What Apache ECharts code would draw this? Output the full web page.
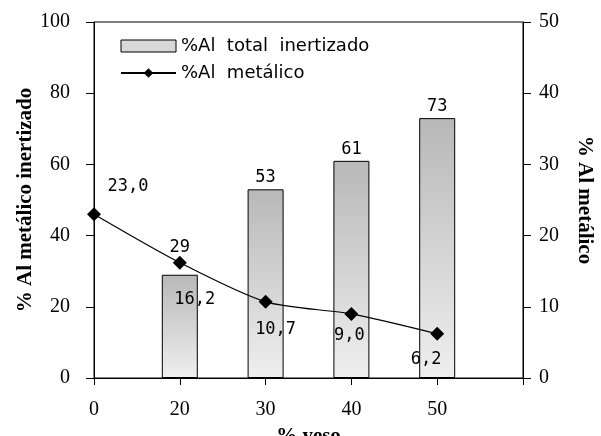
<!DOCTYPE html>
<html><head><meta charset="utf-8">
<script src="https://cdn.jsdelivr.net/npm/echarts@6/dist/echarts.min.js"></script>
<style>html,body{margin:0;padding:0;background:#fff}#c{width:601px;height:436px}</style>
</head><body><div id="c"></div>
<script>
var categories = ['0', '20', '30', '40', '50', ''];
var totalInertizado = [null, 29, 53, 61, 73, null];
var alMetalico = [23.0, 16.2, 10.7, 9.0, 6.2, null];
var leftTicks = {min: 0, max: 100, interval: 20};
var rightTicks = {min: 0, max: 50, interval: 10};

var barLabelOffset = [[0, 0], [0, -16], [0, 0], [0, 0], [0, 0], [0, 0]];
var lineLabelPos = ['top', 'bottom', 'bottom', 'bottom', 'bottom'];
var lineLabelOffset = [[34, -7], [15, 16], [10, 7], [-2, 1], [-11, 5]];

var chart = echarts.init(document.getElementById('c'));
var serif = "'Liberation Serif', 'DejaVu Serif', serif";
var mono = "'DejaVu Sans Mono', 'Liberation Mono', monospace";

var barData = totalInertizado.map(function (v, i) {
  if (v === null) return null;
  return {value: v, label: {offset: barLabelOffset[i]}};
});
var lineData = alMetalico.map(function (v, i) {
  if (v === null) return null;
  return {value: v, label: {position: lineLabelPos[i], offset: lineLabelOffset[i]}};
});

chart.setOption({
  animation: false,
  grid: {left: 94, right: 78, top: 22, bottom: 58, containLabel: false, outerBoundsMode: 'none',
    show: true, borderColor: '#000', borderWidth: 1, backgroundColor: 'transparent'},
  legend: {
    orient: 'vertical', left: 115, top: 32, itemWidth: 55, itemHeight: 12, itemGap: 9,
    textStyle: {fontFamily: "'DejaVu Sans', sans-serif", fontSize: 18, color: '#000'},
    data: [
      {name: '%Al  total  inertizado', icon: 'rect', itemStyle: {color: '#d8d8d8', borderColor: '#000', borderWidth: 1}},
      {name: '%Al  metálico'}
    ]
  },
  xAxis: {
    type: 'category', data: categories, boundaryGap: false,
    name: '% yeso', nameLocation: 'middle', nameGap: 48, nameMoveOverlap: false,
    nameTextStyle: {fontFamily: serif, fontSize: 21, fontWeight: 'bold', color: '#000'},
    axisLine: {lineStyle: {color: '#000', width: 1}},
    axisTick: {show: true, length: 7, lineStyle: {color: '#000'}},
    axisLabel: {fontFamily: serif, fontSize: 20, color: '#000', margin: 22},
    splitLine: {show: false}
  },
  yAxis: [
    {
      type: 'value', min: leftTicks.min, max: leftTicks.max, interval: leftTicks.interval,
      name: '% Al metálico inertizado', nameLocation: 'middle', nameGap: 58, nameRotate: 90, nameMoveOverlap: false,
      nameTextStyle: {fontFamily: serif, fontSize: 21, fontWeight: 'bold', color: '#000'},
      axisLine: {show: true, lineStyle: {color: '#000'}},
      axisTick: {show: true, length: 8, lineStyle: {color: '#000'}},
      axisLabel: {fontFamily: serif, fontSize: 20, color: '#000', margin: 24},
      splitLine: {show: false}
    },
    {
      type: 'value', position: 'right', min: rightTicks.min, max: rightTicks.max, interval: rightTicks.interval,
      name: '% Al metálico', nameLocation: 'middle', nameGap: 51, nameRotate: -90, nameMoveOverlap: false,
      nameTextStyle: {fontFamily: serif, fontSize: 21, fontWeight: 'bold', color: '#000'},
      axisLine: {show: true, lineStyle: {color: '#000'}},
      axisTick: {show: true, length: 8, inside: false, lineStyle: {color: '#000'}},
      axisLabel: {fontFamily: serif, fontSize: 20, color: '#000', margin: 16},
      splitLine: {show: false}
    }
  ],
  series: [
    {
      name: '%Al  total  inertizado', type: 'bar', yAxisIndex: 0, barWidth: 36,
      data: barData,
      itemStyle: {
        color: new echarts.graphic.LinearGradient(0, 0, 0, 1, [
          {offset: 0, color: '#b8b8b8'}, {offset: 1, color: '#efefef'}
        ]),
        borderColor: '#000', borderWidth: 1
      },
      label: {show: true, position: 'top', distance: 3, fontFamily: mono, fontSize: 17, color: '#000'}
    },
    {
      name: '%Al  metálico', type: 'line', yAxisIndex: 1, smooth: 0.25,
      data: lineData, symbol: 'diamond', symbolSize: 14,
      lineStyle: {color: '#000', width: 1.2},
      itemStyle: {color: '#000'},
      label: {
        show: true, fontFamily: mono, fontSize: 17, color: '#000',
        formatter: function (p) { return p.value.toFixed(1).replace('.', ','); }
      }
    }
  ]
});
</script></body></html>
